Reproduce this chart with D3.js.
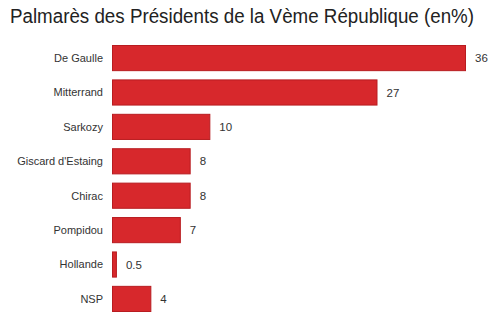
<!DOCTYPE html>
<html>
<head>
<meta charset="utf-8">
<script src="https://cdn.jsdelivr.net/npm/d3@7"></script>
<style>
  body { margin: 0; background: #fff; }
  text { font-family: "Liberation Sans", Arial, Helvetica, sans-serif; }
</style>
</head>
<body>
<svg></svg>
<script>
const presidents = ["De Gaulle", "Mitterrand", "Sarkozy", "Giscard d'Estaing", "Chirac", "Pompidou", "Hollande", "NSP"];
const scores = [36, 27, 10, 8, 8, 7, 0.5, 4];
const valueLabels = ["36", "27", "10", "8", "8", "7", "0.5", "4"];
const chartTitle = "Palmarès des Présidents de la Vème République (en%)";

const svg = d3.select("svg").attr("width", 500).attr("height", 321);

// title squeezed a bit to fit the width like the original
svg.append("text")
  .attr("x", 10).attr("y", 23)
  .attr("font-size", 19.5)
  .attr("fill", "#222")
  .attr("textLength", 464)
  .attr("lengthAdjust", "spacingAndGlyphs")
  .text(chartTitle);

const x = d3.scaleLinear().domain([0, 36]).range([112, 466]);
const y = d3.scaleBand().domain(presidents).range([45, 312]).paddingInner(0.24).paddingOuter(0);

const rows = svg.selectAll("g.row").data(presidents).enter().append("g").attr("class", "row");

rows.append("rect")
  .attr("x", x(0) + 0.5)
  .attr("y", d => y(d) + 0.5)
  .attr("width", (d, i) => x(scores[i]) - x(0) - 1)
  .attr("height", y.bandwidth() - 1)
  .attr("fill", "#d7282c")
  .attr("stroke", "#b81c20")
  .attr("stroke-width", 1);

rows.append("text")
  .attr("x", 103)
  .attr("y", d => y(d) + y.bandwidth() / 2)
  .attr("dy", "0.35em")
  .attr("text-anchor", "end")
  .attr("font-size", 11)
  .attr("fill", "#333")
  .text(d => d);

rows.append("text")
  .attr("x", (d, i) => x(scores[i]) + 9)
  .attr("y", d => y(d) + y.bandwidth() / 2)
  .attr("dy", "0.35em")
  .attr("font-size", 11.5)
  .attr("fill", "#333")
  .text((d, i) => valueLabels[i]);
</script>
</body>
</html>
